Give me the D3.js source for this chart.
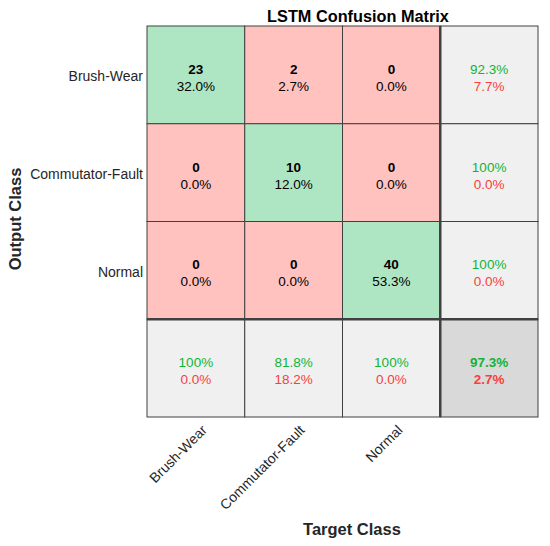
<!DOCTYPE html>
<html>
<head>
<meta charset="utf-8">
<script src="https://cdn.jsdelivr.net/npm/d3@7"></script>
<style>
  body { margin: 0; background: #fff; }
  text { font-family: "Liberation Sans", Arial, sans-serif; }
</style>
</head>
<body>
<div id="chart"></div>
<script>
"use strict";

// chart data
let classes = ["Brush-Wear", "Commutator-Fault", "Normal"];
let counts = [
  [23, 2, 0],
  [0, 10, 0],
  [0, 0, 40]
];
let cellPct = [
  [32.0, 2.7, 0.0],
  [0.0, 12.0, 0.0],
  [0.0, 0.0, 53.3]
];
let rowCorrect = [92.3, 100, 100];
let rowWrong = [7.7, 0.0, 0.0];
let colCorrect = [100, 81.8, 100];
let colWrong = [0.0, 18.2, 0.0];
let overall = [97.3, 2.7];

let width = 550, height = 546;
let gridLeft = 147, gridRight = 538, gridTop = 26, gridBottom = 417;

let colors = {
  good: "#aee6c4",
  bad: "#ffc2bf",
  summary: "#f0f0f0",
  total: "#d9d9d9",
  green: "#10b438",
  red: "#f8413a",
  line: "#404040"
};

let fmt = v => (v === 100 ? "100" : v.toFixed(1)) + "%";

let keys = classes.concat(["__sum"]);

let x = d3.scaleBand().domain(keys).range([gridLeft, gridRight]);
let y = d3.scaleBand().domain(keys).range([gridTop, gridBottom]);

let svg = d3.select("#chart")
  .append("svg")
  .attr("width", width)
  .attr("height", height);

// build cell list
let cells = [];
classes.forEach((r, i) => {
  classes.forEach((c, j) => {
    cells.push({
      row: r, col: c, kind: i === j ? "good" : "bad",
      top: String(counts[i][j]), bottom: fmt(cellPct[i][j])
    });
  });
  cells.push({ row: r, col: "__sum", kind: "summary",
    top: fmt(rowCorrect[i]), bottom: fmt(rowWrong[i]) });
});
classes.forEach((c, j) => {
  cells.push({ row: "__sum", col: c, kind: "summary",
    top: fmt(colCorrect[j]), bottom: fmt(colWrong[j]) });
});
cells.push({ row: "__sum", col: "__sum", kind: "total",
  top: fmt(overall[0]), bottom: fmt(overall[1]) });

let g = svg.append("g");

g.selectAll("rect.cell")
  .data(cells)
  .enter()
  .append("rect")
  .attr("class", "cell")
  .attr("x", d => x(d.col))
  .attr("y", d => y(d.row))
  .attr("width", x.bandwidth())
  .attr("height", y.bandwidth())
  .attr("fill", d => colors[d.kind])
  .attr("stroke", colors.line)
  .attr("stroke-width", 1);

let labels = g.selectAll("g.lab")
  .data(cells)
  .enter()
  .append("g")
  .attr("transform", d => "translate(" + (x(d.col) + x.bandwidth() / 2) + "," + (y(d.row) + y.bandwidth() / 2) + ")");

labels.append("text")
  .attr("text-anchor", "middle")
  .attr("y", -1)
  .style("font-size", "13.5px")
  .style("font-weight", d => (d.kind === "summary" ? "normal" : "bold"))
  .attr("fill", d => (d.kind === "summary" || d.kind === "total") ? colors.green : "#000")
  .text(d => d.top);

labels.append("text")
  .attr("text-anchor", "middle")
  .attr("y", 16)
  .style("font-size", "13.5px")
  .style("font-weight", d => (d.kind === "total" ? "bold" : "normal"))
  .attr("fill", d => (d.kind === "summary" || d.kind === "total") ? colors.red : "#000")
  .text(d => d.bottom);

// thick separators
g.append("line")
  .attr("x1", x("__sum")).attr("x2", x("__sum"))
  .attr("y1", gridTop).attr("y2", gridBottom)
  .attr("stroke", colors.line).attr("stroke-width", 2.5);
g.append("line")
  .attr("x1", gridLeft).attr("x2", gridRight)
  .attr("y1", y("__sum")).attr("y2", y("__sum"))
  .attr("stroke", colors.line).attr("stroke-width", 2.5);

// y axis labels
svg.append("g")
  .selectAll("text")
  .data(classes)
  .enter()
  .append("text")
  .attr("x", gridLeft - 4)
  .attr("y", d => y(d) + y.bandwidth() / 2 + 6.5)
  .attr("text-anchor", "end")
  .style("font-size", "14px")
  .attr("fill", "#262626")
  .text(d => d);

// x axis labels
svg.append("g")
  .selectAll("text")
  .data(classes)
  .enter()
  .append("text")
  .attr("transform", d => "translate(" + (x(d) + x.bandwidth() / 2 + 12) + "," + (gridBottom + 14) + ") rotate(-45)")
  .attr("text-anchor", "end")
  .style("font-size", "14px")
  .attr("fill", "#262626")
  .text(d => d);

// titles
svg.append("text")
  .attr("x", 358).attr("y", 22)
  .attr("text-anchor", "middle")
  .style("font-size", "16.3px")
  .style("font-weight", "bold")
  .attr("fill", "#000")
  .text("LSTM Confusion Matrix");

svg.append("text")
  .attr("x", 352).attr("y", 535)
  .attr("text-anchor", "middle")
  .style("font-size", "16.5px")
  .style("font-weight", "bold")
  .attr("fill", "#262626")
  .text("Target Class");

svg.append("text")
  .attr("transform", "translate(21," + 219 + ") rotate(-90)")
  .attr("text-anchor", "middle")
  .style("font-size", "16.5px")
  .style("font-weight", "bold")
  .attr("fill", "#262626")
  .text("Output Class");
</script>
</body>
</html>
